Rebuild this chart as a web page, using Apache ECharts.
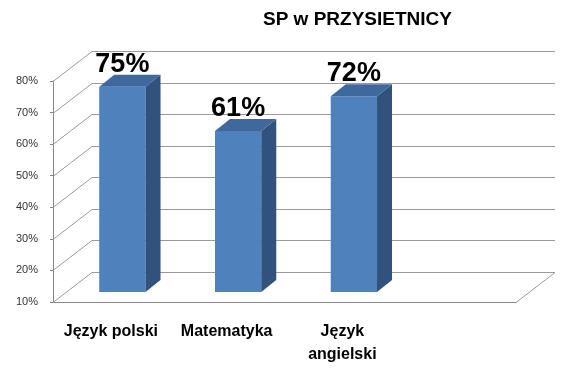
<!DOCTYPE html>
<html>
<head>
<meta charset="utf-8">
<script src="https://cdn.jsdelivr.net/npm/echarts@6/dist/echarts.min.js"></script>
<style>
  html, body { margin: 0; padding: 0; background: #fff; }
  #chart { width: 580px; height: 376px; }
</style>
</head>
<body>
<div id="chart"></div>
<script>
// data
var categories = ['Język polski', 'Matematyka', 'Język\nangielski', ''];
var values = [75, 61, 72];
var yTicks = [10, 20, 30, 40, 50, 60, 70, 80];

// fake 3d depth (pixels)
var WALL_DX = 39, WALL_DY = -30;   // back wall offset
var OFF_X = 11.5, OFF_Y = -10;     // bar front face offset from the front plane
var BAR_DX = 15, BAR_DY = -12;     // bar depth
var FONT = '"Liberation Sans", Arial, sans-serif';

var chart = echarts.init(document.getElementById('chart'));

var option = {
  animation: false,
  title: {
    text: 'SP w PRZYSIETNICY',
    left: 258,
    top: 5,
    textStyle: { fontFamily: FONT, fontWeight: 'bold', fontSize: 19, color: '#000' }
  },
  grid: { left: 53, right: 64, top: 81, bottom: 74 },
  xAxis: {
    type: 'category',
    data: categories,
    axisLine: { lineStyle: { color: '#868686' } },
    axisTick: { length: 7, lineStyle: { color: '#868686' } },
    axisLabel: {
      interval: 0, margin: 18, fontFamily: FONT, fontWeight: 'bold',
      fontSize: 16, lineHeight: 23, color: '#000'
    }
  },
  yAxis: {
    type: 'value',
    min: 10, max: 80, interval: 10,
    axisLine: { show: true, lineStyle: { color: '#868686' } },
    axisTick: { show: true, length: 3, lineStyle: { color: '#868686' } },
    splitLine: { show: false },
    axisLabel: { formatter: '{value}%', fontFamily: FONT, fontSize: 11, color: '#333', margin: 15 }
  },
  series: [
    {
      // walls + floor
      type: 'custom',
      clip: false,
      silent: true,
      z: 1,
      data: yTicks.map(function (v) { return [0, v]; }),
      renderItem: function (params, api) {
        var cs = params.coordSys;
        var y = Math.round(api.coord([0, api.value(1)])[1]) + 0.5;
        var x0 = cs.x, x1 = cs.x + cs.width;
        var pts = [[x0, y], [x0 + WALL_DX, y + WALL_DY], [x1 + WALL_DX, y + WALL_DY]];
        if (params.dataIndex === 0) pts.push([x1, y]);
        return {
          type: 'polyline',
          shape: { points: pts },
          style: { stroke: '#9a9a9a', lineWidth: 1, fill: 'none' }
        };
      }
    },
    {
      type: 'custom',
      clip: false,
      z: 2,
      data: values.map(function (v, i) { return [i, v]; }),
      renderItem: function (params, api) {
        var i = api.value(0), v = api.value(1);
        var top = api.coord([i, v]);
        var base = api.coord([i, 10]);
        var band = api.size([1, 0])[0];
        var w = band * 0.4;
        var cx = top[0] + OFF_X;
        var x1 = cx - w / 2, x2 = cx + w / 2;
        var yt = top[1] + OFF_Y, yb = base[1] + OFF_Y;
        return {
          type: 'group',
          children: [
            {
              type: 'rect',
              shape: { x: x1, y: yt, width: w, height: yb - yt },
              style: { fill: '#4F81BD' }
            },
            {
              type: 'polygon',
              shape: { points: [[x2, yt], [x2 + BAR_DX, yt + BAR_DY], [x2 + BAR_DX, yb + BAR_DY], [x2, yb]] },
              style: { fill: '#30527C' }
            },
            {
              type: 'polygon',
              shape: { points: [[x1, yt], [x1 + BAR_DX, yt + BAR_DY], [x2 + BAR_DX, yt + BAR_DY], [x2, yt]] },
              style: { fill: '#3F689C' }
            },
            {
              type: 'text',
              style: {
                text: v + '%',
                x: cx,
                y: yt + BAR_DY + 3,
                textAlign: 'center',
                textVerticalAlign: 'bottom',
                font: 'bold 27px ' + FONT,
                fill: '#000'
              }
            }
          ]
        };
      }
    }
  ]
};

chart.setOption(option);
</script>
</body>
</html>
